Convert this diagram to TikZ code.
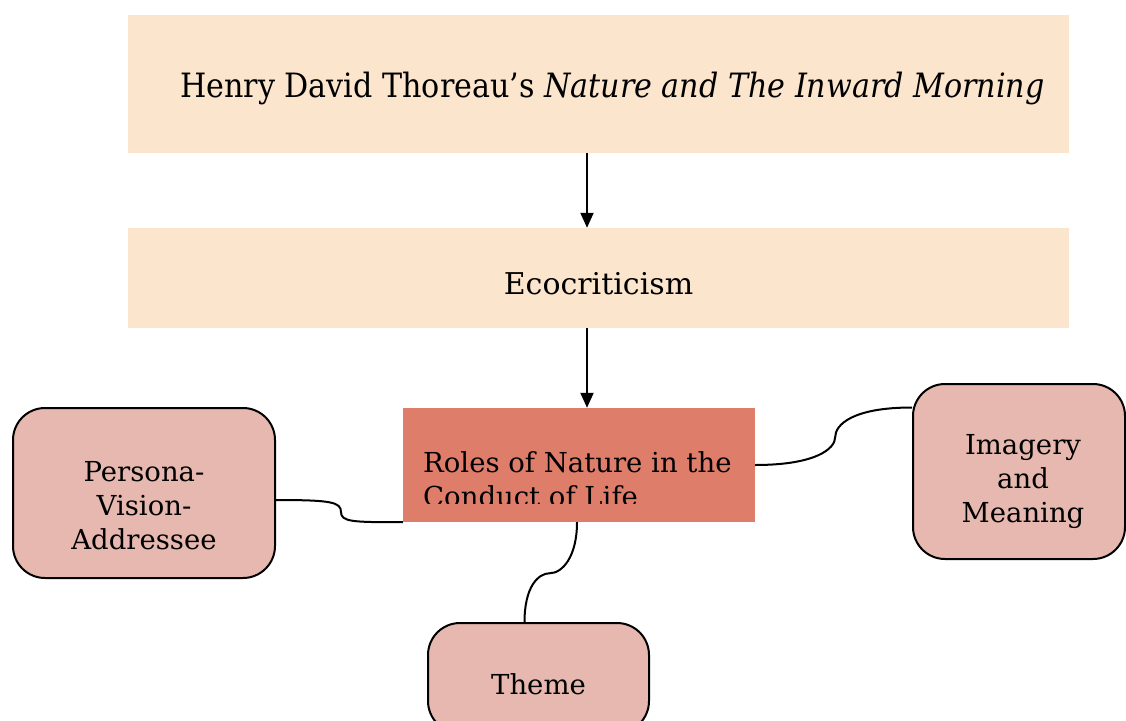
\documentclass[tikz,border=0pt]{standalone}
\usepackage{fontspec}
\setmainfont{DejaVu Serif}
\newfontfamily\titlefont{DejaVu Serif Condensed}
\usetikzlibrary{arrows.meta}

\definecolor{peach}{HTML}{FBE5CD}
\definecolor{rolesred}{HTML}{DF7D6B}
\definecolor{rosebox}{HTML}{E6B8AF}

\begin{document}
\begin{tikzpicture}[x=1pt,y=-1pt,
  band/.style={fill=peach,draw=none,minimum width=941pt,inner sep=0pt},
  topic/.style={fill=rosebox,draw=black,line width=2pt,rounded corners=32pt,inner sep=0pt},
  topictext/.style={inner sep=0pt,align=center,font=\fontsize{27.5}{34}\selectfont},
  flow/.style={line width=2pt,-{Triangle[length=15pt,width=13pt]}},
  link/.style={line width=2pt}]
\useasboundingbox (0,0) rectangle (1126,720);
\clip (0,0) rectangle (1126,720);
\node[band,minimum height=138pt] (book) at (598.5,84) {};
\node[anchor=base west,inner sep=0pt,font=\titlefont\fontsize{33.5}{34}\selectfont] (booktext) at (180,97)
  {Henry David Thoreau’s \textit{Nature and The Inward Morning}};
\node[band,minimum height=100pt] (eco) at (598.5,278) {};
\node[anchor=base,inner sep=0pt,font=\fontsize{30}{34}\selectfont] (ecotext) at (598.5,294) {Ecocriticism};
\node[fill=rolesred,draw=none,inner sep=0pt,minimum width=352pt,minimum height=114pt] (roles) at (579,465) {};
\begin{scope}
\clip (roles.south west) ++(0,-19) rectangle (roles.north east);
\node[anchor=north west,inner sep=0pt,align=left,font=\fontsize{27.5}{34}\selectfont] (rolestext) at (423,451)
  {Roles of Nature in the\\Conduct of Life};
\end{scope}
\node[topic,minimum width=262pt,minimum height=170pt] (persona) at (144,493) {};
\node[topictext] (personatext) at ([yshift=-13pt]persona.center) {Persona-\\Vision-\\Addressee};
\node[topic,minimum width=212pt,minimum height=175pt] (imagery) at (1019,471.5) {};
\node[topictext] (imagerytext) at ([xshift=4pt,yshift=-10pt]imagery.center) {Imagery\\and\\Meaning};
\node[topic,minimum width=221pt,minimum height=110pt] (theme) at (538.5,678) {};
\node[topictext] (themetext) at ([yshift=-6pt]theme.center) {Theme};
% arrows down the middle
\draw[flow] (book.south -| 587,0) -- (eco.north -| 587,0);
\draw[flow] (eco.south -| 587,0) -- (roles.north -| 587,0);
% curved links
\draw[link] ([yshift=-7pt]persona.east) .. controls +(55,0) and +(0,-10) .. ++(65,12)
  .. controls +(0,10) and +(-50,0) .. (roles.south west);
\draw[link] (roles.east) .. controls +(60,0) and +(0,12) .. ++(80,-28)
  .. controls +(0,-12) and +(-60,0) .. ([yshift=64pt]imagery.west);
\draw[link] ([xshift=-2pt]roles.south) .. controls +(0,35) and +(12,0) .. ++(-27,51)
  .. controls +(-12,0) and +(0,-35) .. ([xshift=-14pt]theme.north);
\end{tikzpicture}
\end{document}
